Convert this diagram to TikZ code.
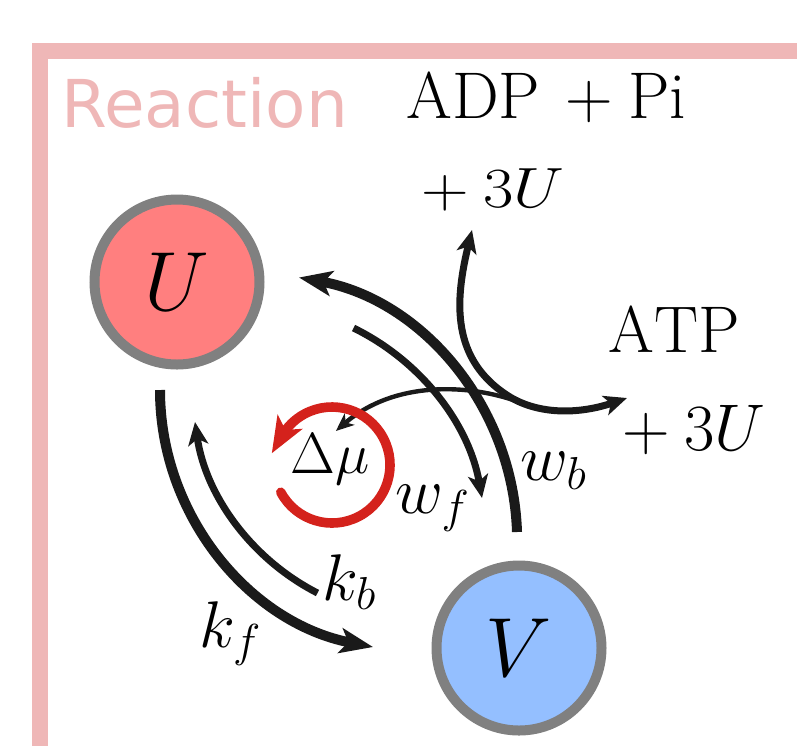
\RequirePackage{fix-cm}
\documentclass[tikz,border=0pt]{standalone}
\usepackage{fontspec}
\newfontfamily\reactfont{DejaVu Sans}
\usetikzlibrary{arrows.meta}
\definecolor{framepink}{RGB}{239,183,183}
\definecolor{ucolor}{RGB}{255,127,127}
\definecolor{vcolor}{RGB}{148,191,255}
\definecolor{inkblack}{RGB}{26,26,26}
\definecolor{cyclered}{RGB}{212,34,28}

\begin{document}
\begin{tikzpicture}[x=0.5pt,y=-0.5pt,
    state/.style={circle,draw=gray,line width=5pt,minimum size=82.5pt,
      inner sep=0pt,font=\fontsize{42}{50}\selectfont},
    lbl/.style={inner sep=0pt,anchor=base west,font=\fontsize{33}{40}\selectfont},
    rate/.style={draw=inkblack,line width=3.5pt,
      -{Stealth[length=11.5pt,width=10pt,inset=3pt]}},
    fastrate/.style={draw=inkblack,line width=5pt,
      -{Stealth[length=16.5pt,width=12.5pt,inset=4pt]}}]
  \useasboundingbox (0,0) rectangle (797,746);
  % panel frame and title
  \draw[framepink,line width=8pt] (797,51) -- (40,51) -- (40,746);
  \node[lbl,text=framepink,font=\reactfont\fontsize{33}{40}\selectfont] (title) at (61,127) {Reaction};

  % the two states
  \node[state,fill=ucolor] (U) at (177,282) {$U$};
  \node[state,fill=vcolor] (V) at (519,648) {$V$};

  % species of the fuel
  \node[lbl] (adp) at (406,118) {$\mathrm{ADP}\,+\mathrm{Pi}$};
  \node[lbl,anchor=base east] (adpu) at (565,207) {\scalebox{1}[0.86]{${}+3U$}};
  \node[lbl] (atp) at (608,352) {$\mathrm{ATP}$};
  \node[lbl,anchor=base east] (atpu) at (766,450) {${}+3U$};

  % k: plain transitions
  \coordinate (kf-a) at (160,390);
  \coordinate (kf-b) at (373,647);
  \coordinate (kb-a) at (317.5,593);
  \coordinate (kb-b) at (195,422);
  \draw[fastrate] (kf-a) .. controls (160,516) and (250,623) .. (kf-b);
  \draw[rate] (kb-a) .. controls (251,559) and (205.5,495) .. (kb-b);
  \node[lbl] (kf) at (199,647) {$k_f$};
  \node[lbl] (kb) at (322,600) {$k_b$};

  % w: fuelled transitions
  \coordinate (wf-a) at (353.5,328);
  \coordinate (wf-b) at (482,498);
  \coordinate (wb-a) at (517,532);
  \coordinate (wb-b) at (299,277.5);
  \draw[rate] (wf-a) .. controls (421,361) and (469,424) .. (wf-b);
  \draw[fastrate] (wb-a) .. controls (513,406) and (422,300) .. (wb-b);
  \node[lbl] (wf) at (395,513) {$w_f$};
  \node[lbl] (wb) at (520,480) {$w_b$};

  % ATP <-> ADP + Pi, feeding the cycle
  \coordinate (fuel-top) at (472,230);
  \coordinate (fuel-mid) at (510,397);
  \coordinate (fuel-right) at (627,398);
  \coordinate (fuel-split) at (519,402);
  \draw[draw=inkblack,line width=3.5pt,
        {Stealth[length=11.5pt,width=10pt,inset=3pt]}-{Stealth[length=11.5pt,width=10pt,inset=3pt]}]
    (fuel-top) .. controls (455,300) and (450,360) .. (fuel-mid)
               .. controls (540,415) and (580,414) .. (fuel-right);

  % chemical potential and its cycle
  \node[inner sep=0pt,anchor=base west,font=\fontsize{29}{35}\selectfont] (dmu) at (290,473) {$\Delta\mu$};
  \coordinate (dmu-c) at (332,465);
  \draw[draw=inkblack,line width=2.2pt,-{Stealth[length=9pt,width=7.5pt,inset=2.5pt]}]
    (fuel-split) .. controls (470,384) and (395,380) .. ([xshift=3pt,yshift=1pt]dmu.north);
  \draw[cyclered,line width=4.8pt,line cap=round,
        -{Stealth[length=18pt,width=14pt,inset=4.5pt]}]
    (dmu-c) ++(152:58) arc[start angle=152,end angle=-150,radius=58] -- ++(-10,17.3);
\end{tikzpicture}
\end{document}
